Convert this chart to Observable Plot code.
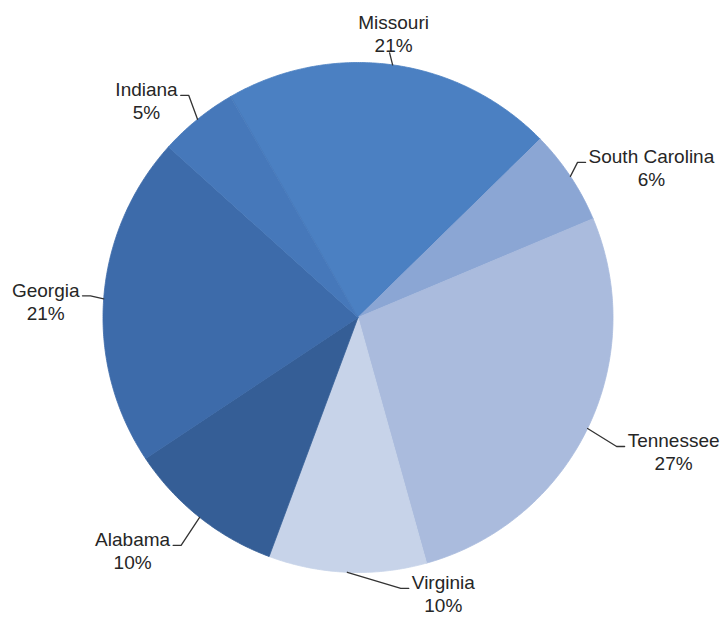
<!DOCTYPE html>
<html><head><meta charset="utf-8">
<script src="https://cdn.jsdelivr.net/npm/d3@7"></script>
<script src="https://cdn.jsdelivr.net/npm/@observablehq/plot@0.6"></script>
<style>body{margin:0;background:#fff}</style>
</head><body><div id="chart"></div>
<script>
// ---- data ----
const states = ["Missouri","South Carolina","Tennessee","Virginia","Alabama","Georgia","Indiana"];
const shares = [21, 6, 27, 10, 10, 21, 5];
const shareLabels = ["21%","6%","27%","10%","10%","21%","5%"];

// ---- style / layout config ----
const sliceColors = ["#4b80c2","#8ba6d4","#aabbdd","#c7d3e9","#355e96","#3d6baa","#4678ba"];
const W = 725, H = 617, CX = 357.5, CY = 317, R = 255, START = -30;
const FONT = "Liberation Sans, Arial, sans-serif", FS = 19;
// label block offsets from the slice's edge point, and side of the leader
const labelLayout = {
  "Missouri":       {dx: 1,   dy: -32, side: "top"},
  "South Carolina": {dx: 81,  dy: -9,  side: "right"},
  "Tennessee":      {dx: 86,  dy: 23,  side: "right"},
  "Virginia":       {dx: 96,  dy: 21,  side: "right"},
  "Alabama":        {dx: -67, dy: 33,  side: "left"},
  "Georgia":        {dx: -58, dy: 2,   side: "left"},
  "Indiana":        {dx: -51, dy: -19, side: "left"}
};

const rad = d => d * Math.PI / 180;
const arcs = d3.pie().sort(null).startAngle(rad(START)).endAngle(rad(START + 360))(shares);
const pt = (a, r) => [CX + r * Math.sin(a), CY - r * Math.cos(a)];

// slice polygons
const sliceRows = [];
arcs.forEach((a, i) => {
  sliceRows.push({state: states[i], x: CX, y: CY});
  const n = Math.max(2, Math.ceil((a.endAngle - a.startAngle) / rad(0.5)));
  for (let k = 0; k <= n; k++) {
    const t = a.startAngle + (a.endAngle - a.startAngle) * k / n;
    const [x, y] = pt(t, R);
    sliceRows.push({state: states[i], x, y});
  }
});

// text measurement
const ctx = document.createElement("canvas").getContext("2d");
ctx.font = `${FS}px ${FONT}`;

const labels = [], leaders = [];
arcs.forEach((a, i) => {
  const s = states[i], L = labelLayout[s];
  const mid = (a.startAngle + a.endAngle) / 2;
  const [ex, ey] = pt(mid, R);
  const tx = ex + L.dx, ty = ey + L.dy;
  labels.push({state: s, x: tx, y: ty, text: s + "\n" + shareLabels[i]});
  const w = ctx.measureText(s).width;
  const ly = ty - 5;
  if (L.side === "top") {
    leaders.push({state: s, x: ex, y: ey}, {state: s, x: tx - 4, y: ty + 20});
  } else if (L.side === "right") {
    const endX = tx - w / 2 - 3;
    leaders.push({state: s, x: ex, y: ey}, {state: s, x: endX - 8, y: ly}, {state: s, x: endX, y: ly});
  } else {
    const endX = tx + w / 2 + 3;
    leaders.push({state: s, x: ex, y: ey}, {state: s, x: endX + 8, y: ly}, {state: s, x: endX, y: ly});
  }
});

const chart = Plot.plot({
  width: W, height: H,
  margin: 0,
  x: {domain: [0, W], range: [0, W], axis: null},
  y: {domain: [0, H], range: [0, H], axis: null},
  color: {domain: states, range: sliceColors},
  style: {background: "#fff", fontFamily: FONT},
  marks: [
    Plot.line(sliceRows, {x: "x", y: "y", z: "state", fill: "state", stroke: "state", strokeWidth: 0.8, curve: "linear-closed"}),
    Plot.line(leaders, {x: "x", y: "y", z: "state", stroke: "#333", strokeWidth: 1.3}),
    Plot.text(labels, {x: "x", y: "y", text: "text", fontSize: FS, lineHeight: 1.22, fill: "#262626", fontFamily: FONT})
  ]
});
document.getElementById("chart").appendChild(chart);
</script>
</body></html>
